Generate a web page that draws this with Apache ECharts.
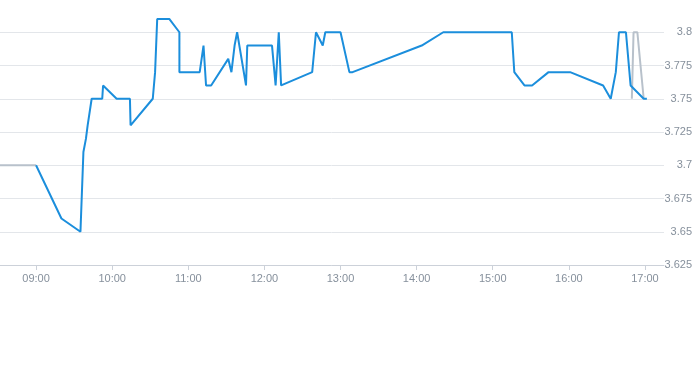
<!DOCTYPE html>
<html>
<head>
<meta charset="utf-8">
<script src="https://cdn.jsdelivr.net/npm/echarts@6/dist/echarts.min.js"></script>
<style>
html,body{margin:0;padding:0;background:#fff;}
#c{width:693px;height:365px;}
</style>
</head>
<body>
<div id="c"></div>
<script>
// Main (blue) price series
const mainTimes = ["09:00","09:20","09:35","09:37:20","09:39:20","09:40:40","09:43:50","09:52:10","09:52:50","10:03:30","10:14","10:14:30","10:32","10:33:50","10:34:20","10:35:30","10:45","10:53","10:53","11:09","11:12","11:14","11:18","11:31:30","11:34","11:36:30","11:37:20","11:38:30","11:40","11:45:30","11:46:30","12:06","12:08:50","12:11:20","12:13:10","12:37:40","12:40:40","12:46","12:48","13:00","13:07","13:09:30","14:04","14:21","15:15","15:17","15:25","15:31","15:44","16:01","16:27","16:33","16:37","16:39:30","16:45","16:48:40","16:59","17:01:30"];
const mainValues = [3.70,3.66,3.65,3.71,3.72,3.73,3.75,3.75,3.76,3.75,3.75,3.73,3.75,3.77,3.77,3.81,3.81,3.80,3.77,3.77,3.79,3.76,3.76,3.78,3.77,3.79,3.79,3.80,3.80,3.76,3.79,3.79,3.76,3.80,3.76,3.77,3.80,3.79,3.80,3.80,3.77,3.77,3.79,3.80,3.80,3.77,3.76,3.76,3.77,3.77,3.76,3.75,3.77,3.80,3.80,3.76,3.75,3.75];

// Extended-hours (grey) series; null breaks the line
const extTimes = ["08:30","09:00","09:01","16:49:40","16:51","16:54","16:59"];
const extValues = [3.70,3.70,null,3.75,3.80,3.80,3.75];

// Axis ticks
const xTickLabels = ["09:00","10:00","11:00","12:00","13:00","14:00","15:00","16:00","17:00"];
const xRange = ["08:30","17:15"];
const yMin = 3.625, yMax = 3.825, yStep = 0.025;

function toMin(s){const p=s.split(':').map(Number);return p[0]*60+p[1]+(p[2]||0)/60;}
function fmt(m){const h=Math.floor(m/60),mm=Math.round(m-h*60);return String(h).padStart(2,'0')+':'+String(mm).padStart(2,'0');}

const mainData = mainTimes.map((t,i)=>[toMin(t),mainValues[i]]);
const extData = extTimes.map((t,i)=>[toMin(t),extValues[i]]);
const xTicks = xTickLabels.map(toMin);

const chart = echarts.init(document.getElementById('c'));
chart.setOption({
  animation:false,
  grid:{left:-2,right:29,top:-1,bottom:100,outerBoundsMode:'none',containLabel:false},
  xAxis:{
    type:'value',
    min:toMin(xRange[0]), max:toMin(xRange[1]),
    axisLine:{show:true,lineStyle:{color:'#ccd1d9',width:1}},
    axisTick:{show:true,length:5,lineStyle:{color:'#ccd1d9'},customValues:xTicks},
    axisLabel:{customValues:xTicks,formatter:v=>fmt(v),color:'#86909c',fontSize:11,fontFamily:'Liberation Sans, Arial, sans-serif',margin:8},
    splitLine:{show:false}
  },
  yAxis:{
    type:'value',position:'right',
    min:yMin,max:yMax,interval:yStep,
    axisLine:{show:false},axisTick:{show:false},
    axisLabel:{showMaxLabel:false,align:'right',margin:28,color:'#86909c',fontSize:11,fontFamily:'Liberation Sans, Arial, sans-serif',formatter:v=>String(+v.toFixed(3))},
    splitLine:{lineStyle:{color:'#e3e6ea',width:1}}
  },
  series:[
    {type:'line',data:extData,showSymbol:false,connectNulls:false,z:2,
     lineStyle:{color:'#b8c1cb',width:2},itemStyle:{color:'#b8c1cb'}},
    {type:'line',data:mainData,showSymbol:false,z:3,
     lineStyle:{color:'#1b8edc',width:2},itemStyle:{color:'#1b8edc'}}
  ]
});
</script>
</body>
</html>
